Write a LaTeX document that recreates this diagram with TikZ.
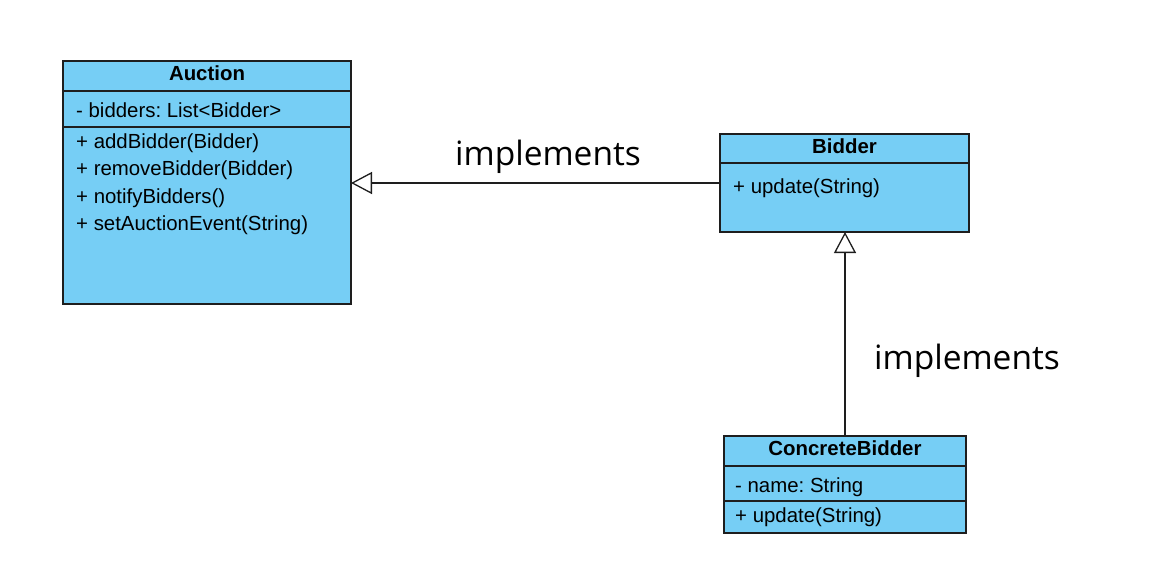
\documentclass[tikz,border=0pt]{standalone}
\usepackage{fontspec}
\setmainfont{Liberation Sans}
\newfontfamily\labelfont{Open Sans}
\usepackage{tikz}
\usetikzlibrary{arrows.meta,positioning,fit}
\definecolor{classBlue}{HTML}{76CEF5}
\definecolor{lineDark}{HTML}{1E1E1E}
\frenchspacing

\begin{document}
\begin{tikzpicture}[
    x=1pt,y=-1pt,
    every node/.style={font=\fontsize{20.4}{27.4}\selectfont},
    classbox/.style={rectangle,draw=lineDark,fill=classBlue,
                  line width=1.3pt,inner sep=0pt,outer sep=0pt},
    hdr/.style={classbox,text depth=5pt,font=\fontsize{20.4}{24}\selectfont\bfseries},
    member/.style={inner sep=0pt,align=left},
    realize/.style={line width=1.3pt,draw=lineDark,
                  -{Triangle[open,length=21pt,width=22pt,line width=1.3pt]}},
    lbl/.style={font=\fontsize{33.5}{38}\labelfont,text=black}
  ]
  \useasboundingbox (0,0) rectangle (1151,571);
  %% Auction
  \node[hdr,minimum width=288pt,minimum height=30pt,anchor=north west] (auction) at (63,61) {Auction};
  \node[classbox,minimum width=288pt,minimum height=36pt,below=0pt of auction] (auctionAttr) {};
  \node[classbox,minimum width=288pt,minimum height=177pt,below=0pt of auctionAttr] (auctionOps) {};
  \node[member,right=13pt of auctionAttr.west,yshift=-1pt] (auctionAttrTxt) {- bidders: List<Bidder>};
  \node[member,below right=6.5pt and 13pt of auctionOps.north west] (auctionOpsTxt)
        {+ addBidder(Bidder)\\+ removeBidder(Bidder)\\+ notifyBidders()\\+ setAuctionEvent(String)};
  %% Bidder
  \node[hdr,minimum width=249pt,minimum height=29pt,anchor=north west] (bidder) at (720,134) {Bidder};
  \node[classbox,minimum width=249pt,minimum height=69pt,below=0pt of bidder] (bidderOps) {};
  \node[member,below right=15.5pt and 13pt of bidderOps.north west] (bidderOpsTxt) {+ update(String)};
  \node[fit=(bidder)(bidderOps),inner sep=0pt] (bidderCls) {};
  %% ConcreteBidder
  \node[hdr,minimum width=242pt,minimum height=30pt,anchor=north west] (concrete) at (724,436) {ConcreteBidder};
  \node[classbox,minimum width=242pt,minimum height=35pt,below=0pt of concrete] (concreteAttr) {};
  \node[classbox,minimum width=242pt,minimum height=32pt,below=0pt of concreteAttr] (concreteOps) {};
  \node[member,right=11pt of concreteAttr.west,yshift=-3.5pt] (concreteAttrTxt) {- name: String};
  \node[member,right=11pt of concreteOps.west] (concreteOpsTxt) {+ update(String)};
  %% relations
  \draw[realize] (bidderCls.west) -- (bidderCls.west -| auctionOps.east);
  \draw[realize] (concrete.north) -- (concrete.north |- bidderOps.south);
  \node[lbl] (implA) at (548,157) {implements};
  \node[lbl] (implB) at (967,361) {implements};
\end{tikzpicture}
\end{document}
